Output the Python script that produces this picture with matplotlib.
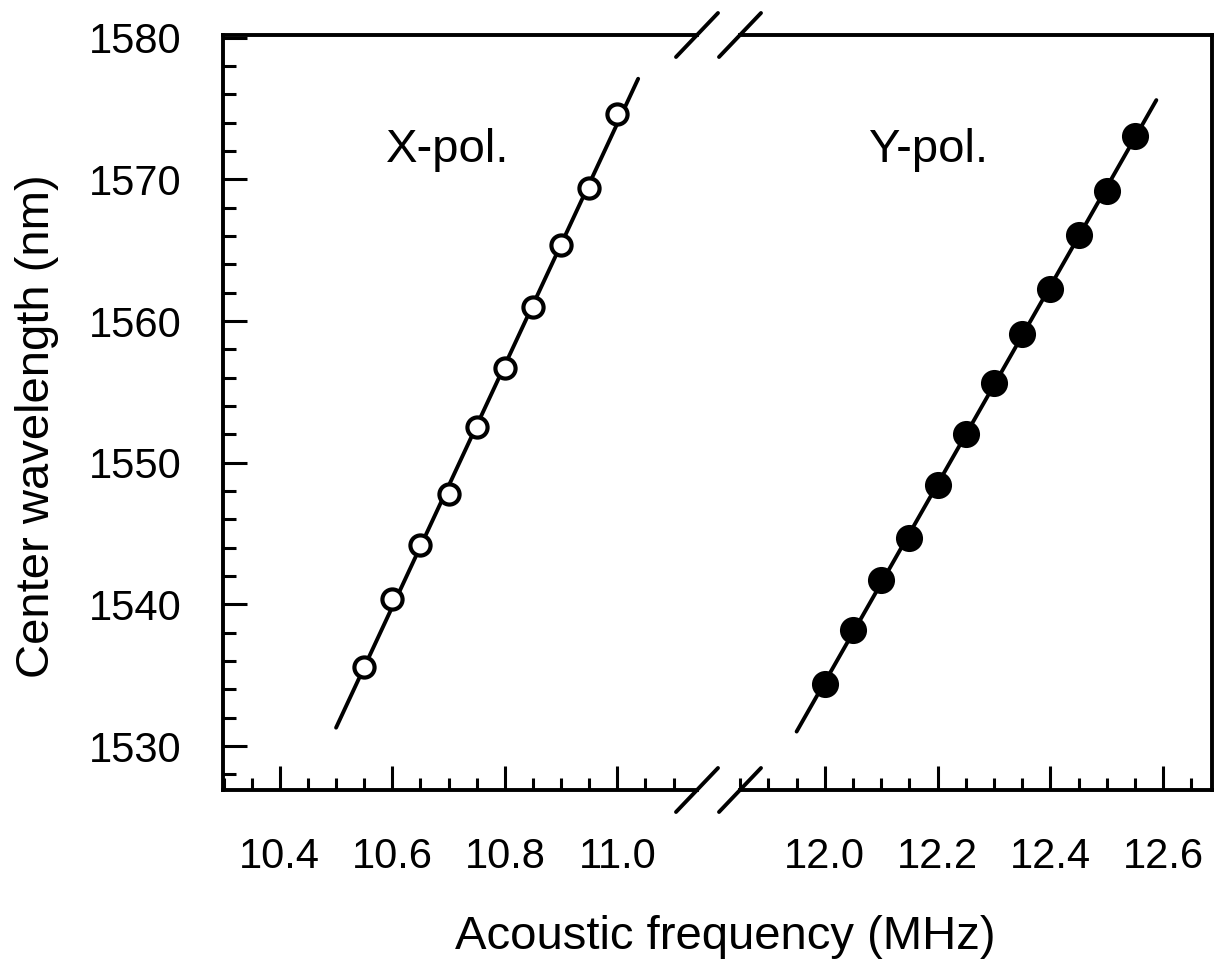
import numpy as np
import matplotlib
matplotlib.use("Agg")
import matplotlib.pyplot as plt
from matplotlib.ticker import MultipleLocator

plt.rcParams['font.family'] = ['Liberation Sans', 'DejaVu Sans']

# X-polarisation (open circles)
x_pol_freq = [10.55, 10.60, 10.65, 10.70, 10.75, 10.80, 10.85, 10.90, 10.95, 11.00]
x_pol_wl = [1535.6, 1540.4, 1544.2, 1547.8, 1552.5, 1556.7, 1561.0, 1565.4, 1569.4, 1574.6]
x_fit_range = [10.50, 11.037]

# Y-polarisation (filled circles)
y_pol_freq = [12.00, 12.05, 12.10, 12.15, 12.20, 12.25, 12.30, 12.35, 12.40, 12.45, 12.50, 12.55]
y_pol_wl = [1534.4, 1538.2, 1541.7, 1544.7, 1548.4, 1552.0, 1555.6, 1559.1, 1562.3, 1566.1, 1569.2, 1573.1]
y_fit_range = [11.95, 12.588]

left_ticks = [10.4, 10.6, 10.8, 11.0]
right_ticks = [12.0, 12.2, 12.4, 12.6]
y_ticks = [1530, 1540, 1550, 1560, 1570, 1580]

W, H = 1215, 966
fig = plt.figure(figsize=(W / 100, H / 100), dpi=100)

bottom = (H - 790) / H
height = (790 - 35) / H
ax1 = fig.add_axes([223 / W, bottom, (697 - 223) / W, height])
ax2 = fig.add_axes([740 / W, bottom, (1212 - 740) / W, height])

ax1.set_xlim(10.299, 11.1416)
ax2.set_xlim(11.8496, 12.6867)
for ax in (ax1, ax2):
    ax.set_ylim(1526.9, 1580.2)
    for s in ax.spines.values():
        s.set_linewidth(2.8)
    ax.tick_params(axis='both', which='major', direction='in', length=17, width=2.2,
                   labelsize=30, top=False, right=False)
    ax.tick_params(axis='both', which='minor', direction='in', length=9, width=2.2,
                   top=False, right=False)
    ax.tick_params(axis='x', which='major', pad=34)
    ax.xaxis.set_minor_locator(MultipleLocator(0.05))

ax1.spines['right'].set_visible(False)
ax2.spines['left'].set_visible(False)
ax1.set_xticks(left_ticks)
ax1.set_xticklabels([f"{t:.1f}" for t in left_ticks])
ax2.set_xticks(right_ticks)
ax2.set_xticklabels([f"{t:.1f}" for t in right_ticks])

ax1.set_yticks(y_ticks)
ax1.yaxis.set_minor_locator(MultipleLocator(2))
ax1.tick_params(axis='y', which='major', pad=30)
ax2.set_yticks([])
ax2.tick_params(axis='y', which='both', left=False, labelleft=False)

# fit lines + data
for ax, fx, fy, rng, filled in ((ax1, x_pol_freq, x_pol_wl, x_fit_range, False),
                                (ax2, y_pol_freq, y_pol_wl, y_fit_range, True)):
    k, b = np.polyfit(fx, fy, 1)
    xs = np.array(rng)
    ax.plot(xs, k * xs + b, color='black', lw=2.8, solid_capstyle='round')
    ax.plot(fx, fy, 'o', ms=16.5 if filled else 14.5,
            mfc='black' if filled else 'white', mec='black', mew=3.0)

ax1.text(0.473, 0.848, "X-pol.", transform=ax1.transAxes, fontsize=34,
         ha='center', va='center')
ax2.text(0.40, 0.848, "Y-pol.", transform=ax2.transAxes, fontsize=34,
         ha='center', va='center')

# break marks
dx1, dx2, dy = 21 / 474, 21 / 472, 22 / 755
kw = dict(color='black', lw=2.8, clip_on=False, solid_capstyle='round')
for yy in (0, 1):
    ax1.plot([1 - dx1, 1 + dx1], [yy - dy, yy + dy], transform=ax1.transAxes, **kw)
    ax2.plot([-dx2, dx2], [yy - dy, yy + dy], transform=ax2.transAxes, **kw)

fig.text(725 / W, 1 - 937 / H, "Acoustic frequency (MHz)", fontsize=34,
         ha='center', va='center')
fig.text(37 / W, 1 - 426 / H, "Center wavelength (nm)", fontsize=34,
         ha='center', va='center', rotation=90)

fig.savefig("out.png", dpi=100)
